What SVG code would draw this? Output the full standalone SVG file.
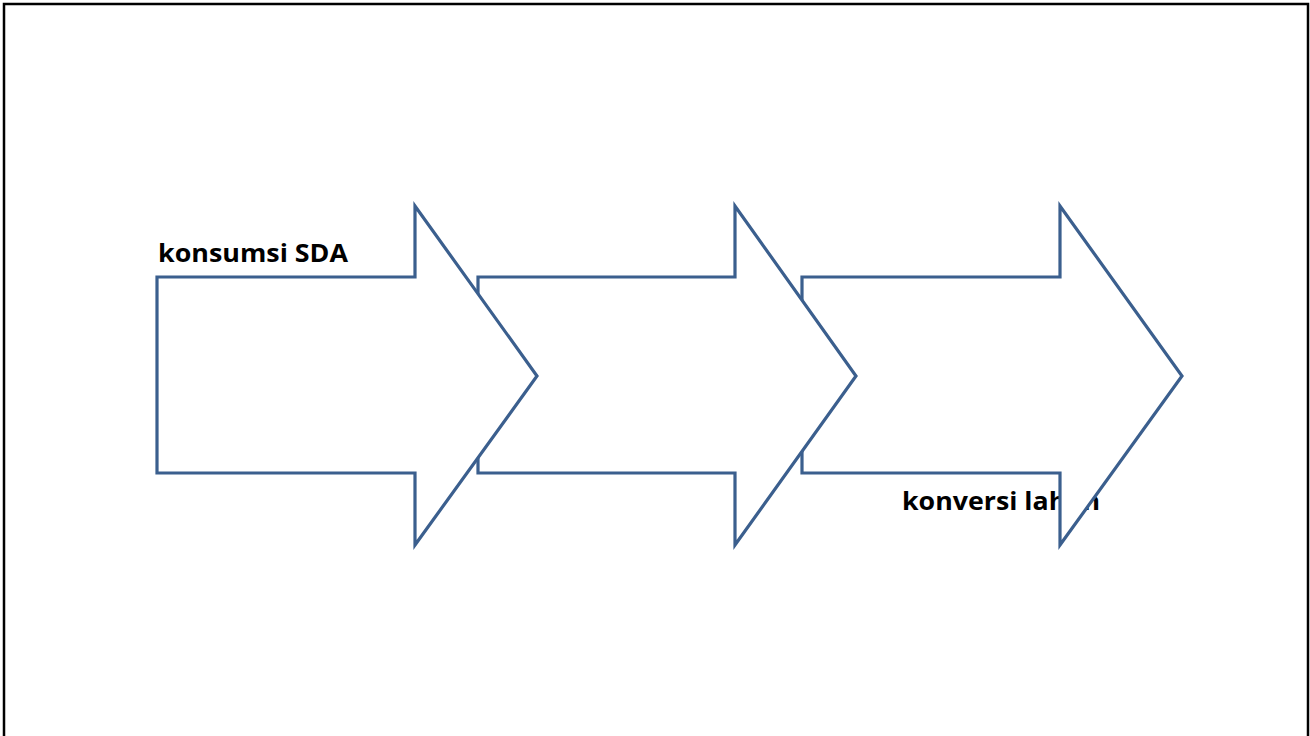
<svg xmlns="http://www.w3.org/2000/svg" width="1310" height="736" viewBox="0 0 1310 736">
<style>
.arrow{fill:#ffffff;stroke:#3b5f8e;stroke-width:3.2;stroke-linejoin:miter}
.lbl{font-family:"Open Sans",Lato,"Liberation Sans",sans-serif;font-weight:bold;font-size:25px;fill:#000000}
</style>
<rect x="0" y="0" width="1310" height="736" fill="#ffffff"/>
<rect x="4" y="4" width="1304" height="760" fill="none" stroke="#000000" stroke-width="2.5"/>
<g id="label-konversi">
<text class="lbl" x="902" y="510" textLength="198" lengthAdjust="spacingAndGlyphs">konversi lahan</text>
</g>
<g id="connectors"></g>
<g id="arrow3">
<polygon class="arrow" points="802,277 1060,277 1060,206 1182,376 1060,545 1060,473 802,473"/>
</g>
<g id="arrow2">
<polygon class="arrow" points="478,277 735,277 735,206 856,376 735,545 735,473 478,473"/>
</g>
<g id="arrow1">
<polygon class="arrow" points="157,277 415,277 415,206 537,376 415,545 415,473 157,473"/>
</g>
<g id="label-konsumsi">
<text class="lbl" x="158" y="262" textLength="190" lengthAdjust="spacingAndGlyphs">konsumsi SDA</text>
</g>
</svg>
